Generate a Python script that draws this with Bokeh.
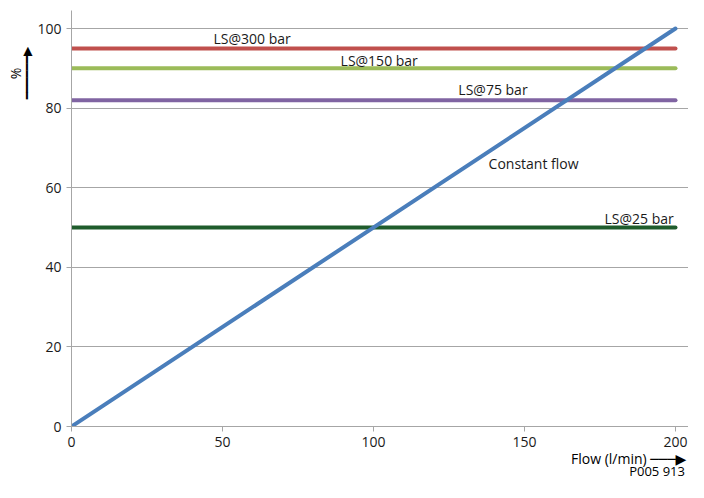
from bokeh.plotting import figure
from bokeh.models import Range1d, Label, FixedTicker, LinearAxis, CustomJSTickFormatter
from bokeh.embed import file_html
from bokeh.resources import INLINE

# data
flow_x = [0, 200]
constant_flow = [0, 100]
ls_names = ["LS@300 bar", "LS@150 bar", "LS@75 bar", "LS@25 bar"]
ls_values = [95, 90, 82, 50]
ls_colors = ["#c0504d", "#9bbb59", "#8064a2", "#1f5c2c"]
label_x = [47.0, 89.1, 128.1, 176.5]
label_y = [97.5, 92.0, 84.7, 52.3]
x_ticks = [0, 50, 100, 150, 200]
y_ticks = [0, 20, 40, 60, 80, 100]

FONT = "Open Sans"
W, H = 688, 482
LEFT, TOP, BOTTOM = 71, 10, 56
PX_X, PX_Y = 3.02, 3.98

p = figure(width=W, height=H, output_backend="svg", toolbar_location=None,
           x_range=Range1d(0, (W - LEFT) / PX_X), y_range=Range1d(0, (H - TOP - BOTTOM) / PX_Y),
           min_border_left=LEFT, min_border_right=0, min_border_top=TOP, min_border_bottom=BOTTOM)
p.outline_line_color = None

for ax in (p.xaxis, p.yaxis):
    ax.axis_line_color = "#a6a6a6"
    ax.major_tick_line_color = "#a6a6a6"
    ax.major_tick_out = 5
    ax.major_tick_in = 0
    ax.minor_tick_line_color = None
    ax.major_label_text_font = FONT
    ax.major_label_text_font_size = "14px"
    ax.major_label_text_color = "#1a1a1a"
p.xaxis.ticker = FixedTicker(ticks=x_ticks)
p.yaxis.ticker = FixedTicker(ticks=y_ticks)
p.xgrid.grid_line_color = None
p.ygrid.grid_line_color = "#a6a6a6"
p.ygrid.ticker = FixedTicker(ticks=y_ticks[1:])

for v, c in zip(ls_values, ls_colors):
    p.line(flow_x, [v, v], line_color=c, line_width=4, line_cap="round")
p.line(flow_x, constant_flow, line_color="#4a7ebb", line_width=4, line_cap="round")

for t, lx, ly in zip(ls_names, label_x, label_y):
    p.add_layout(Label(x=lx, y=ly, text=t, text_font=FONT, text_font_size="14px",
                       text_color="#1a1a1a", text_baseline="middle"))
p.add_layout(Label(x=138.1, y=66.1, text="Constant flow", text_font=FONT, text_font_size="14px",
                   text_color="#1a1a1a", text_baseline="middle"))


def text_axis(loc, ticks, labels, size, standoff, font=FONT, orientation="horizontal"):
    ax = LinearAxis(ticker=FixedTicker(ticks=ticks),
                    formatter=CustomJSTickFormatter(args=dict(labels=labels), code="return labels[index];"))
    ax.axis_line_color = None
    ax.major_tick_line_color = None
    ax.minor_tick_line_color = None
    ax.major_tick_out = 0
    ax.major_tick_in = 0
    ax.major_label_standoff = standoff
    ax.major_label_text_font = font
    ax.major_label_text_font_size = size
    ax.major_label_text_color = "#000000"
    ax.major_label_orientation = orientation
    p.add_layout(ax, loc)
    return ax


# axis captions and arrows, placed as labels of extra (line-less) axes
text_axis("below", [184.5], ["Flow (l/min) " + "\u2500" * 3 + "\u25b6"], "14px", -1,
          font="Open Sans, DejaVu Sans")
text_axis("below", [193.9], ["P005 913"], "13px", -9)
text_axis("left", [88.8], ["\u2501" * 6 + "\u25b6"], "12px", 0, font="DejaVu Sans", orientation="vertical")
text_axis("left", [88.7], ["%"], "14px", -8, orientation="vertical")

open("out.html", "w").write(file_html(p, INLINE))
